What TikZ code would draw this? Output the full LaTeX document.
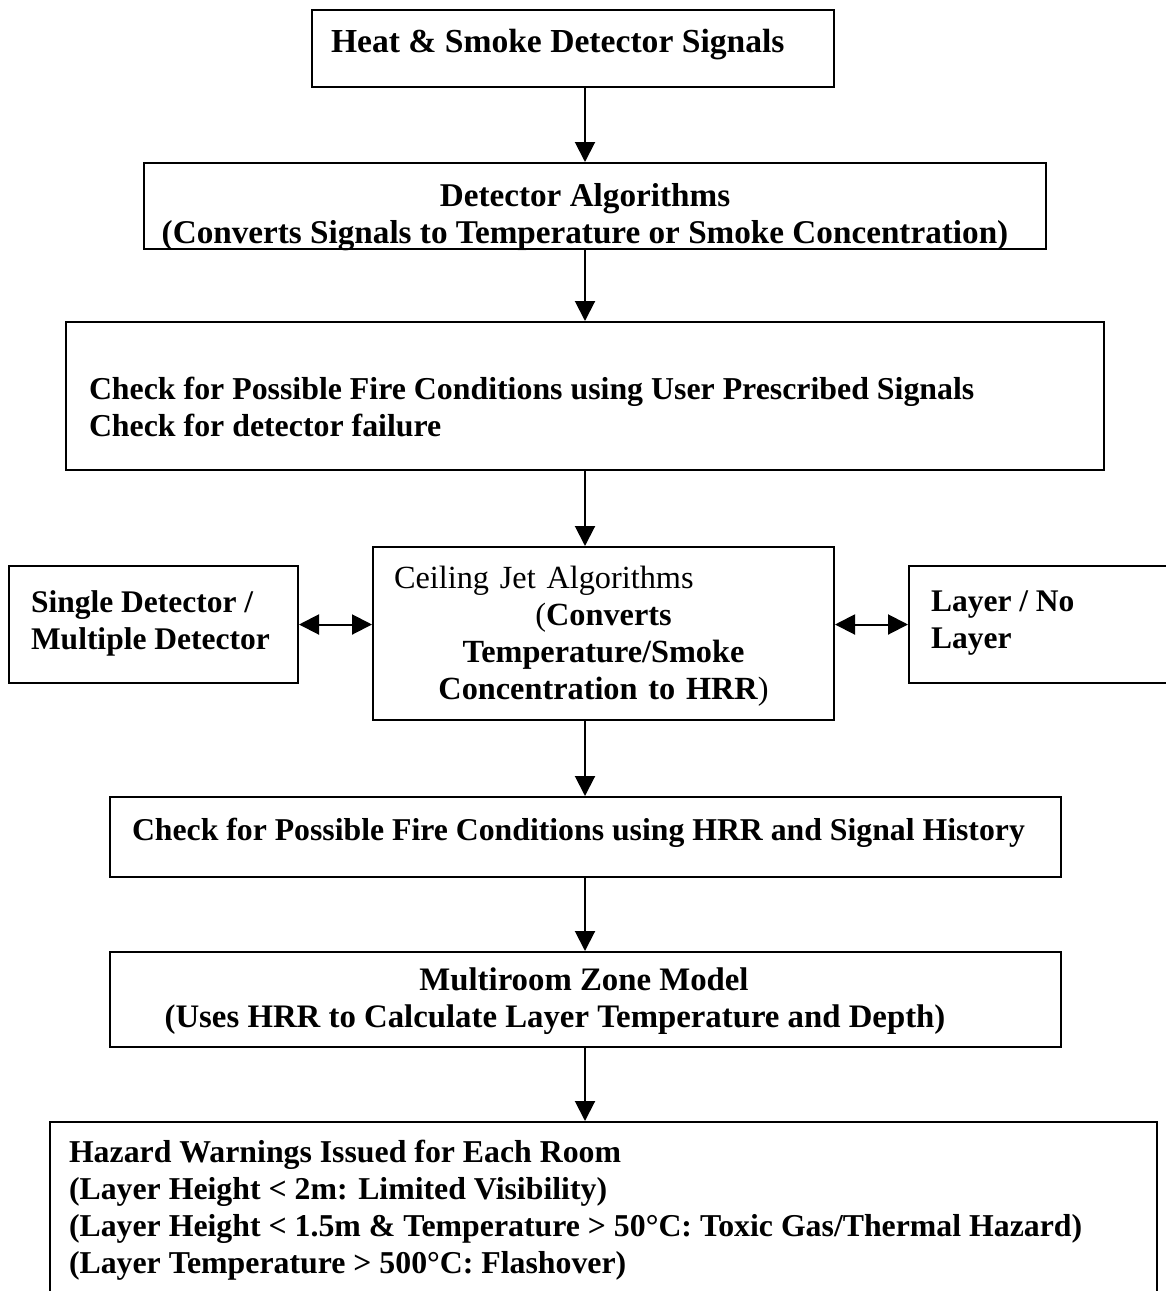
\documentclass[tikz,border=0pt]{standalone}
\usepackage{fontspec}
\setmainfont{Liberation Serif}
\usetikzlibrary{arrows.meta}

\begin{document}
\begin{tikzpicture}[x=1pt, y=-1pt, line width=2pt,
    >={Triangle[length=20pt, width=20pt]}]
    \tikzset{
        flow_box/.style={draw, rectangle, inner sep=0pt},
        box_text/.style={inner sep=0pt, font=\fontsize{#1}{37}\selectfont\bfseries},
        box_text/.default=31.5,
        flow_arrow/.style={->},
        side_arrow/.style={<->}
    }
    \useasboundingbox (0,0) rectangle (1166,1291);
    \coordinate (axis) at (585,0);

    % boxes
    \node[flow_box, minimum width=522pt, minimum height=77pt] (signals) at (573,48.5) {};
    \node[flow_box, minimum width=902pt, minimum height=86pt] (algorithms) at (595,206) {};
    \node[flow_box, minimum width=1038pt, minimum height=148pt] (check) at (585,396) {};
    \node[flow_box, minimum width=461pt, minimum height=173pt] (jet) at (603.5,633.5) {};
    \node[flow_box, minimum width=289pt, minimum height=117pt] (single) at (153.5,624.5) {};
    \node[flow_box, minimum width=300pt, minimum height=117pt] (layer) at (1059,624.5) {};
    \node[flow_box, minimum width=951pt, minimum height=80pt] (history) at (585.5,837) {};
    \node[flow_box, minimum width=951pt, minimum height=95pt] (zone) at (585.5,999.5) {};
    \node[flow_box, minimum width=1107pt, minimum height=180pt] (hazard) at (603.5,1212) {};

    % texts
    \node[box_text=33.6, anchor=west] (signals_text) at (330,45)
        {Heat \& Smoke Detector Signals};
    \node[box_text=33.2, align=center, anchor=north] (algorithms_text) at (585,182)
        {Detector Algorithms\\(Converts Signals to Temperature or Smoke Concentration)};
    \node[box_text=31.85, align=left, anchor=north west] (check_text) at (88,376)
        {Check for Possible Fire Conditions using User Prescribed Signals\\Check for detector failure};
    \node[box_text=32.3, align=center, text width=419pt, anchor=north] (jet_text) at (603.5,565)
        {\makebox[419pt][l]{\mdseries Ceiling Jet Algorithms}\\{\mdseries(}Converts\\Temperature/Smoke\\Concentration to HRR{\mdseries)}};
    \node[box_text, align=left, anchor=north west] (single_text) at (30,590)
        {Single Detector /\\Multiple Detector};
    \node[box_text, align=left, anchor=north west] (layer_text) at (930,590)
        {Layer / No\\Layer};
    \node[box_text=31.75, anchor=west] (history_text) at (131,833)
        {Check for Possible Fire Conditions using HRR and Signal History};
    \node[box_text=32.8, align=center, anchor=north] (zone_text) at (584,967)
        {Multiroom Zone Model\\(Uses HRR to Calculate Layer Temperature and Depth)\hspace*{58pt}};
    \node[box_text=31.8, align=left, anchor=north west] (hazard_text) at (68,1139)
        {Hazard Warnings Issued for Each Room\\(Layer Height < 2m: Limited Visibility)\\(Layer Height < 1.5m \& Temperature > 50°C: Toxic Gas/Thermal Hazard)\\(Layer Temperature > 500°C: Flashover)};

    % connectors
    \draw[flow_arrow] (signals.south -| axis) -- (algorithms.north -| axis);
    \draw[flow_arrow] (algorithms.south -| axis) -- (check.north -| axis);
    \draw[flow_arrow] (check.south -| axis) -- (jet.north -| axis);
    \draw[flow_arrow] (jet.south -| axis) -- (history.north -| axis);
    \draw[flow_arrow] (history.south -| axis) -- (zone.north -| axis);
    \draw[flow_arrow] (zone.south -| axis) -- (hazard.north -| axis);
    \draw[side_arrow] (single.east) -- (single.east -| jet.west);
    \draw[side_arrow] (jet.east |- layer.west) -- (layer.west);
\end{tikzpicture}
\end{document}
